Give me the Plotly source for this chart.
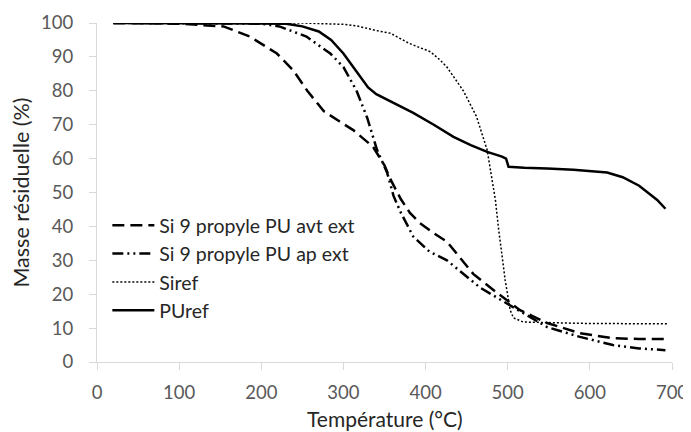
import plotly.graph_objects as go

# Data
t_avt = [20, 100, 154, 186, 219, 239, 256, 276, 295, 312, 336, 350, 357, 370, 381, 393, 410, 426, 458, 487, 515, 548, 588, 628, 660, 692]
m_avt = [100, 99.8, 99, 96, 91, 86, 80, 74, 71, 68.4, 63.5, 58, 54, 48, 44, 41, 38, 35.5, 26, 20.4, 15.3, 11.5, 8.5, 7, 6.8, 6.8]

t_ap = [20, 100, 200, 222, 255, 284, 300, 316, 329, 341, 353, 361, 370, 385, 405, 426, 466, 498, 548, 588, 628, 660, 692]
m_ap = [100, 100, 99.8, 99, 96, 91, 87, 80, 72, 62.5, 56, 49, 44, 37, 32.5, 30, 22, 17.4, 10.3, 7.4, 5, 4, 3.5]

t_si = [20, 100, 200, 250, 300, 317, 345, 357, 380, 406, 418, 426, 446, 462, 475, 481, 485, 489, 497, 503, 507, 519, 550, 588, 650, 695]
m_si = [100, 100, 100, 100, 99.6, 99.1, 97.5, 97, 94, 91.5, 89, 87, 80, 72.4, 62.5, 53.7, 47.8, 39, 24, 15.3, 13, 11.8, 11.6, 11.4, 11.3, 11.3]

t_pu = [20, 100, 200, 230, 250, 270, 285, 300, 315, 330, 340, 360, 385, 410, 434, 455, 475, 493, 498, 501, 520, 548, 580, 621, 640, 660, 682, 692]
m_pu = [100, 100, 100, 99.8, 99, 97.5, 95, 91, 86, 81, 79, 76.5, 73.5, 70, 66.4, 64, 62, 60.6, 60, 57.6, 57.3, 57.1, 56.7, 55.9, 54.5, 52, 47.8, 45.2]

names = ["Si 9 propyle PU avt ext", "Si 9 propyle PU ap ext", "Siref", "PUref"]
x_title = "Température (°C)"
y_title = "Masse résiduelle (%)"

FONT = "Lato, Liberation Sans, sans-serif"

fig = go.Figure()
fig.add_trace(go.Scatter(x=t_avt, y=m_avt, mode="lines", name=names[0],
                         line=dict(color="black", width=2.5, dash="12px,6px")))
fig.add_trace(go.Scatter(x=t_ap, y=m_ap, mode="lines", name=names[1],
                         line=dict(color="black", width=2.5, dash="11px,4px,2px,4px,2px,4px")))
fig.add_trace(go.Scatter(x=t_si, y=m_si, mode="lines", name=names[2],
                         line=dict(color="black", width=1.5, dash="2px,2px")))
fig.add_trace(go.Scatter(x=t_pu, y=m_pu, mode="lines", name=names[3],
                         line=dict(color="black", width=2.5)))

axis_common = dict(showline=True, linecolor="#d9d9d9", linewidth=1, showgrid=False,
                   zeroline=False, ticks="outside", ticklen=7, tickcolor="#d9d9d9",
                   automargin=False,
                   tickfont=dict(family=FONT, size=18.5, color="#595959"))

# the page adds an 8px body margin, so the figure is sized to fit the 691x432 window
fig.update_layout(
    width=683, height=424,
    margin=dict(l=89, r=19, t=15, b=70),
    paper_bgcolor="white", plot_bgcolor="white",
    font=dict(family=FONT, color="#262626"),
    xaxis=dict(range=[0, 700], dtick=100, ticklabelstandoff=7, **axis_common),
    yaxis=dict(range=[0, 100], dtick=10, ticklabelstandoff=12, **axis_common,
               title=dict(text=y_title, font=dict(size=21.5, color="#262626"), standoff=6)),
    legend=dict(x=0.018, y=0.46, xanchor="left", yanchor="top",
                font=dict(family=FONT, size=19.5, color="#262626"), bgcolor="rgba(0,0,0,0)",
                tracegroupgap=0, itemwidth=42),
    showlegend=True,
)

fig.add_annotation(text=x_title, xref="paper", yref="paper", x=0.5, y=-0.168,
                   xanchor="center", yanchor="middle", showarrow=False,
                   font=dict(family=FONT, size=21, color="#262626"))

fig.write_html("out.html")
